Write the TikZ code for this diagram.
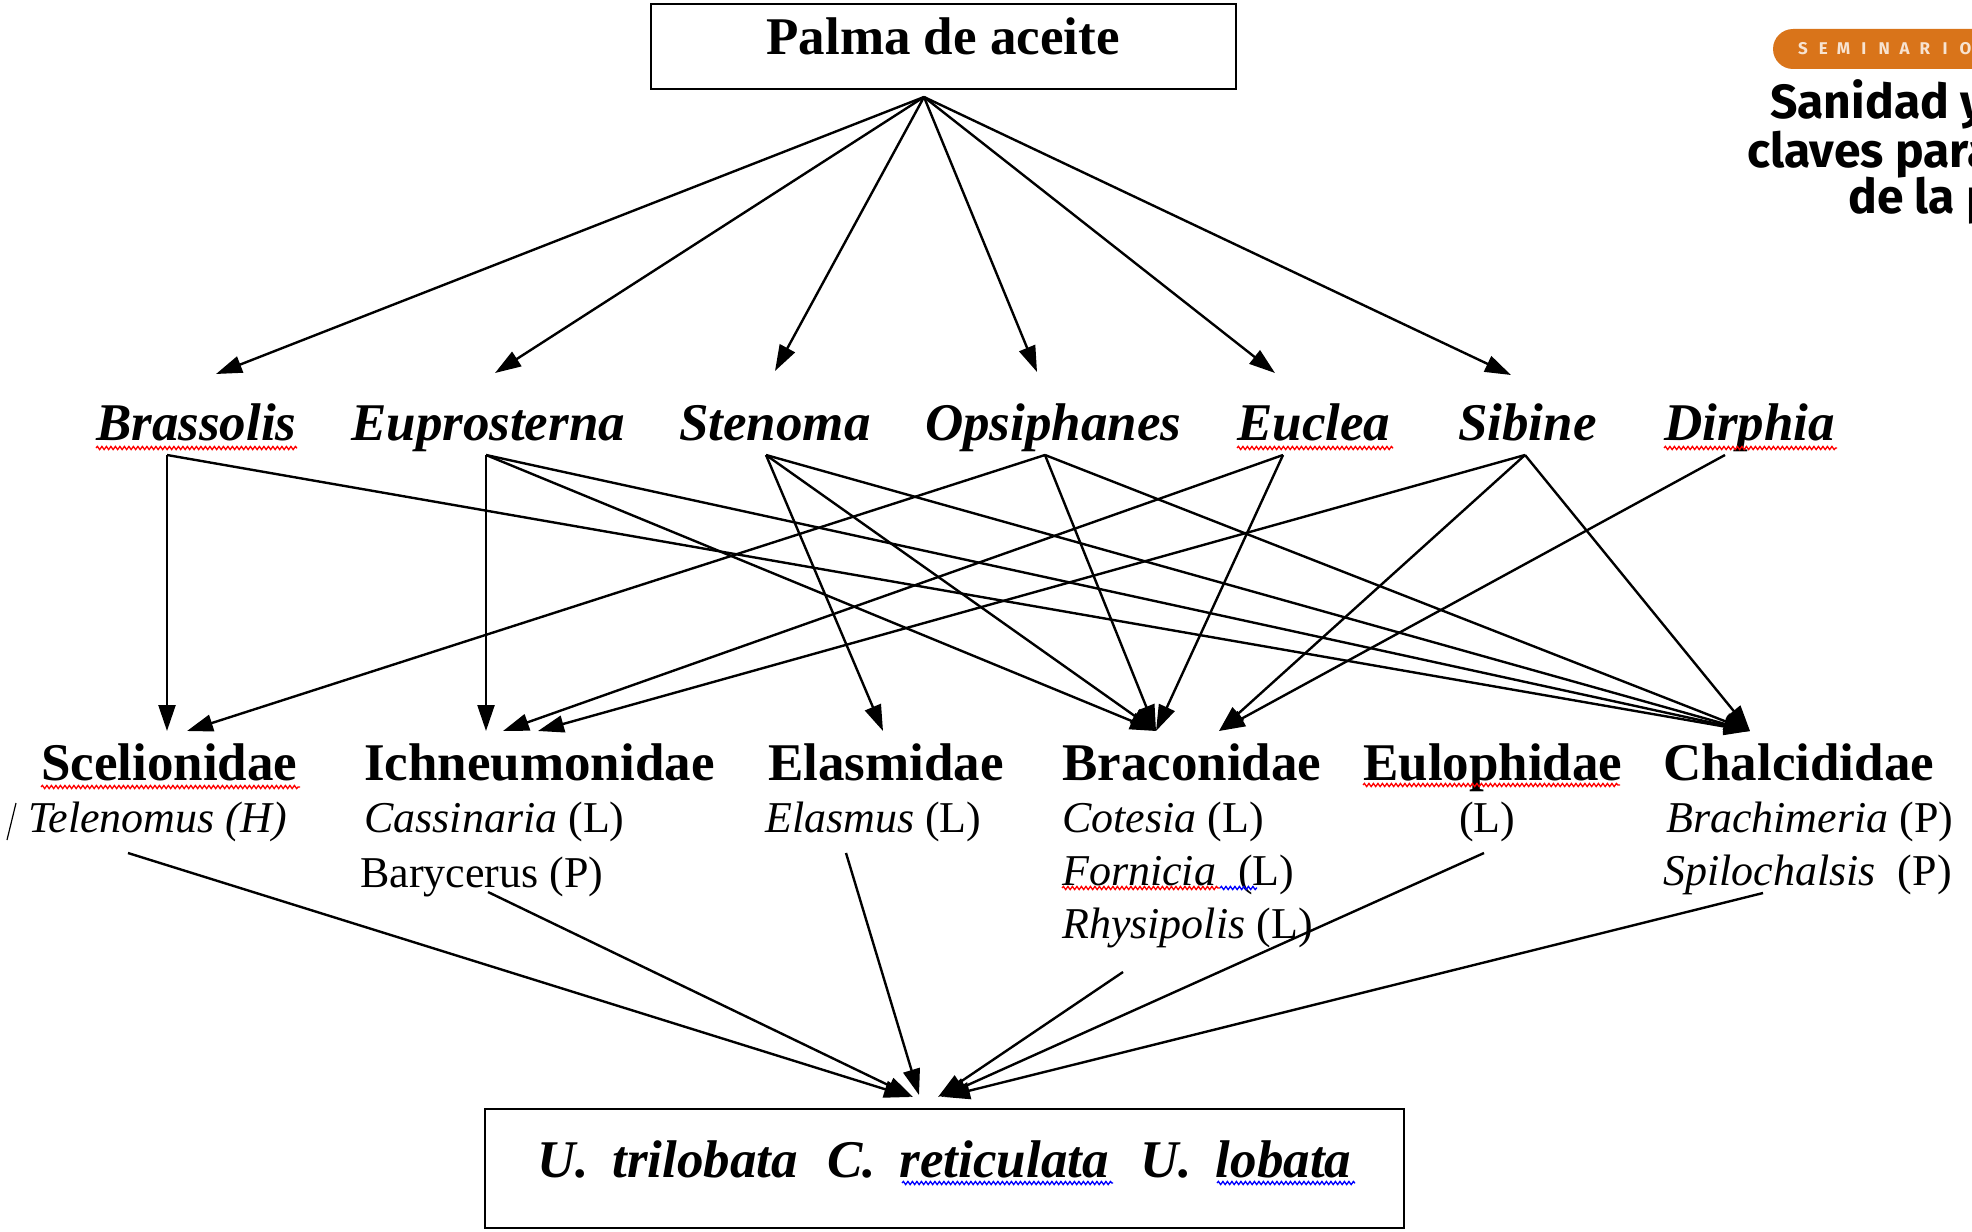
\documentclass[tikz,border=0pt]{standalone}
\usepackage{fontspec}
\setmainfont{Liberation Serif}
\newfontfamily\logofont{Fira Sans}
\usetikzlibrary{arrows.meta,decorations.pathmorphing}
\definecolor{semorange}{HTML}{D9741A}

\begin{document}
\begin{tikzpicture}[x=1pt,y=-1pt,
	genus/.style={anchor=base west,inner sep=0pt,font=\fontsize{53}{60}\selectfont\bfseries\itshape},
	family/.style={anchor=base west,inner sep=0pt,font=\fontsize{53}{60}\selectfont\bfseries},
	species/.style={anchor=base west,inner sep=0pt,font=\fontsize{44}{50}\selectfont},
	box/.style={draw,line width=2.5pt,inner sep=0pt},
	arr/.style={line width=2.4pt,-{Triangle[length=26pt,width=17pt]}},
	redwave/.style={red,line width=1.3pt,decorate,decoration={snake,amplitude=1.6pt,segment length=4.5pt}},
	bluewave/.style={redwave,blue}]
	\useasboundingbox (0,0) rectangle (1972,1231);
	% top and bottom boxes
	\node[box,minimum width=585pt,minimum height=85pt] (palmabox) at (943.5,46.5) {};
	\node[anchor=base,inner sep=0pt,font=\fontsize{53}{60}\selectfont\bfseries] (palma) at (943,55) {Palma de aceite};
	\node[box,minimum width=919pt,minimum height=119pt] (hostbox) at (944.5,1168.5) {};
	\node[anchor=base west,inner sep=0pt,font=\fontsize{53}{60}\selectfont\bfseries\itshape] (hosts) at (537,1177)
		{U.\hspace{0.45em}trilobata\hspace{0.55em}C.\hspace{0.45em}reticulata\hspace{0.6em}U.\hspace{0.45em}lobata};
	% genera
	\node[genus] (brassolis) at (96,440) {Brassolis};
	\node[genus] (euprosterna) at (351,440) {Euprosterna};
	\node[genus] (stenoma) at (679,440) {Stenoma};
	\node[genus] (opsiphanes) at (925,440) {Opsiphanes};
	\node[genus] (euclea) at (1237,440) {Euclea};
	\node[genus] (sibine) at (1458,440) {Sibine};
	\node[genus] (dirphia) at (1664,440) {Dirphia};
	% families
	\node[family] (scelionidae) at (41,780) {Scelionidae};
	\node[family] (ichneumonidae) at (364,780) {Ichneumonidae};
	\node[family] (elasmidae) at (768,780) {Elasmidae};
	\node[family] (braconidae) at (1062,780) {Braconidae};
	\node[family] (eulophidae) at (1363,780) {Eulophidae};
	\node[family] (chalcididae) at (1663,780) {Chalcididae};
	% species
	\node[species] (telenomus) at (28,832) {\textit{Telenomus (H)}};
	\node[species] (cassinaria) at (364,832) {\textit{Cassinaria} (L)};
	\node[species] (barycerus) at (360,887) {Barycerus (P)};
	\node[species] (elasmus) at (765,832) {\textit{Elasmus} (L)};
	\node[species] (cotesia) at (1062,832) {\textit{Cotesia} (L)};
	\node[species] (fornicia) at (1062,885) {\textit{Fornicia}\hspace{0.5em}(L)};
	\node[species] (rhysipolis) at (1062,938) {\textit{Rhysipolis} (L)};
	\node[species] (eulophL) at (1459,832) {(L)};
	\node[species] (brachimeria) at (1666,832) {\textit{Brachimeria} (P)};
	\node[species] (spilochalsis) at (1663,885) {\textit{Spilochalsis}\hspace{0.5em}(P)};
	\draw[line width=1.2pt] (16,803) -- (7,840);
	% spelling marks
	\draw[redwave] (96,448) -- (297,448);
	\draw[redwave] (1237,448) -- (1393,448);
	\draw[redwave] (1664,448) -- (1837,448);
	\draw[redwave] (41,787) -- (300,787);
	\draw[redwave] (1363,785) -- (1620,785);
	\draw[redwave] (1062,888) -- (1220,888);
	\draw[bluewave] (1220,888) -- (1257,888);
	\draw[bluewave] (902,1183) -- (1113,1183);
	\draw[bluewave] (1217,1183) -- (1355,1183);
	% connector ends
	\coordinate (palma-o) at (924,97);
	\coordinate (t1) at (216,374);
	\coordinate (t2) at (495,373);
	\coordinate (t3) at (775,371);
	\coordinate (t4) at (1037,372);
	\coordinate (t5) at (1275,373);
	\coordinate (t6) at (1511,375);
	\coordinate (bras) at (167,455);
	\coordinate (eupr) at (486,455);
	\coordinate (sten) at (766,455);
	\coordinate (opsi) at (1045,455);
	\coordinate (eucl) at (1283,455);
	\coordinate (sibi) at (1525,455);
	\coordinate (dirp) at (1725,455);
	\coordinate (scel1) at (167,731);
	\coordinate (scel2) at (187,731);
	\coordinate (ichn1) at (486,731);
	\coordinate (ichn2) at (503,731);
	\coordinate (ichn3) at (538,731);
	\coordinate (elas) at (883,731);
	\coordinate (brac1) at (1156,731);
	\coordinate (brac2) at (1219,731);
	\coordinate (chal) at (1750,731);
	\coordinate (tel-o) at (128,853);
	\coordinate (bary-o) at (488,892);
	\coordinate (elas-o) at (846,853);
	\coordinate (rhys-o) at (1123,972);
	\coordinate (eulo-o) at (1484,853);
	\coordinate (spil-o) at (1763,893);
	\coordinate (u1) at (910,1097);
	\coordinate (u2) at (913,1097);
	\coordinate (u3) at (919,1095);
	\coordinate (u4) at (938,1097);
	\coordinate (u5) at (941,1097);
	\coordinate (u6) at (944,1097);
	% palm to genera
	\foreach \t in {t1,t2,t3,t4,t5,t6}
		\draw[arr] (palma-o) -- (\t);
	% genera to parasitoid families
	\foreach \a/\b in {bras/scel1,bras/chal,eupr/ichn1,eupr/brac1,eupr/chal,
			sten/elas,sten/brac1,sten/chal,opsi/scel2,opsi/brac1,opsi/chal,
			eucl/ichn2,eucl/brac1,sibi/ichn3,sibi/brac2,sibi/chal,dirp/brac2}
		\draw[arr] (\a) -- (\b);
	% parasitoids to hosts
	\foreach \a/\b in {tel-o/u1,bary-o/u2,elas-o/u3,rhys-o/u4,eulo-o/u5,spil-o/u6}
		\draw[arr] (\a) -- (\b);
	% cut-off logo, top right
	\begin{scope}
		\clip (0,0) rectangle (1972,1231);
		\fill[semorange,rounded corners=20pt] (1773,29) rectangle (2040,69);
		\foreach \l [count=\i] in {S,E,M,I,N,A,R,I,O}
			\node[inner sep=0pt,anchor=base,text=white!80!semorange,font=\logofont\fontsize{17}{17}\selectfont\bfseries]
				(sem\i) at ({1803+(\i-1)*20.3},55) {\l};
		\node[anchor=base west,inner sep=0pt,font=\logofont\fontsize{48}{48}\selectfont\bfseries] (title1) at (1770,118) {Sanidad y};
		\node[anchor=base west,inner sep=0pt,font=\logofont\fontsize{48}{48}\selectfont\bfseries] (title2) at (1747,167) {claves para};
		\node[anchor=base west,inner sep=0pt,font=\logofont\fontsize{48}{48}\selectfont\bfseries] (title3) at (1848,213) {de la palma};
	\end{scope}
\end{tikzpicture}
\end{document}
